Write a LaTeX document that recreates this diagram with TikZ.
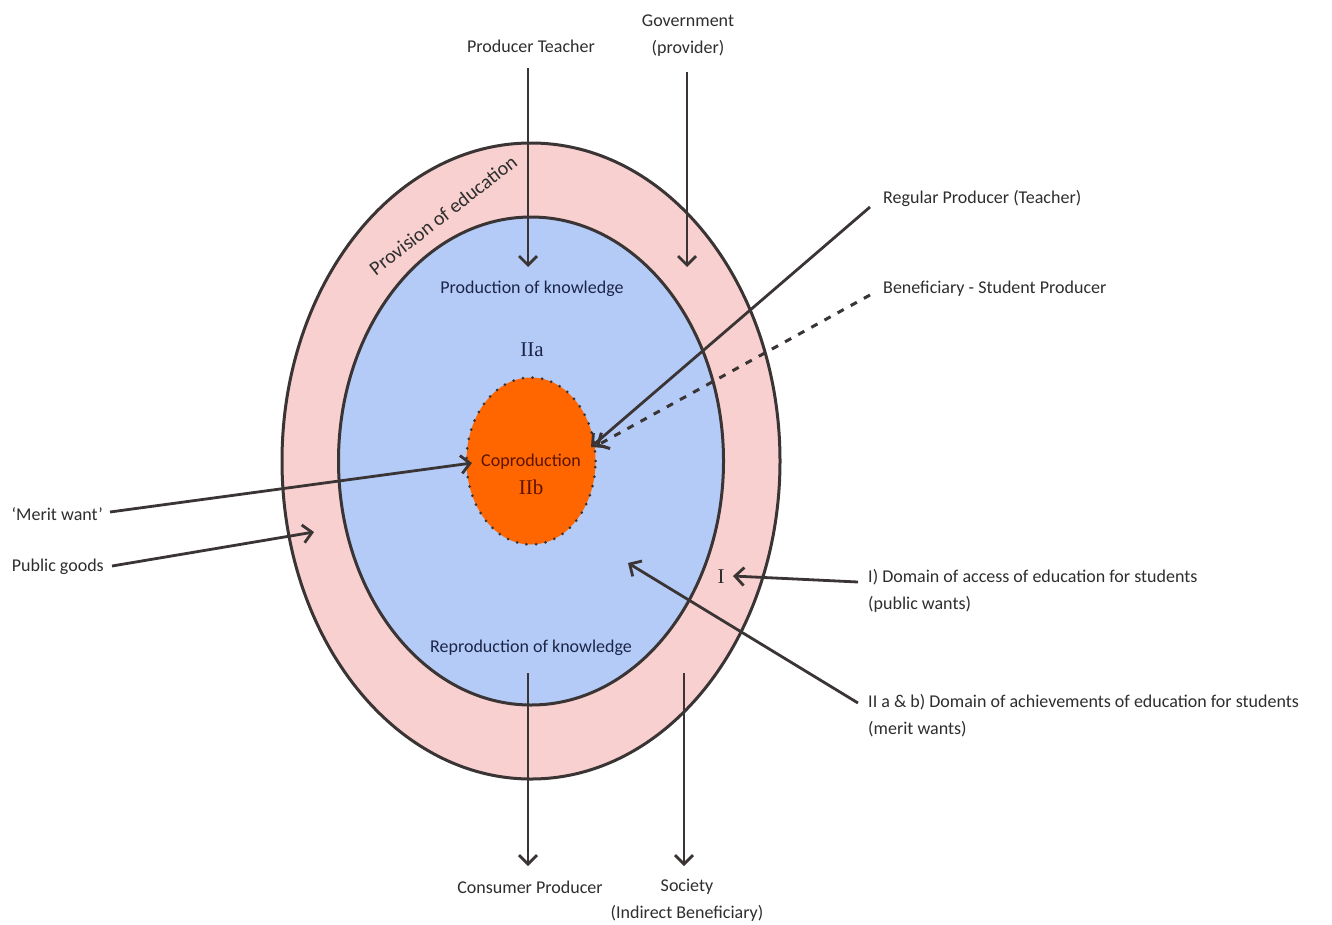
\documentclass[tikz,border=0pt]{standalone}
\usepackage{fontspec}
\setmainfont{Carlito}
\newfontfamily\romanfont{Liberation Serif}
\usetikzlibrary{arrows.meta,shapes.geometric}

\definecolor{bandpink}{HTML}{F9D0D0}
\definecolor{innerblue}{HTML}{B4CBF8}
\definecolor{coreorange}{HTML}{FF6600}
\definecolor{edgegray}{HTML}{3A3434}
\definecolor{inktext}{HTML}{2E2E2E}
\definecolor{navytext}{HTML}{1C2547}
\definecolor{coretext}{HTML}{5A1400}

\begin{document}
\begin{tikzpicture}[x=1pt,y=-1pt,
  lbl/.style={font=\fontsize{18}{21}\selectfont, text=inktext, inner sep=0pt},
  inlbl/.style={font=\fontsize{18}{21}\selectfont, text=navytext, inner sep=0pt},
  numlbl/.style={font=\romanfont\fontsize{21}{24}\selectfont, inner sep=0pt},
  conn/.style={draw=edgegray, line width=2.8pt, -{Straight Barb[length=9pt,width=18pt]}},
  dashconn/.style={draw=edgegray, line width=3pt, dash pattern=on 7pt off 8pt, -{Straight Barb[length=9pt,width=18pt]}},
  ringline/.style={draw=edgegray, line width=3pt, ellipse, inner sep=0pt}]
\useasboundingbox (0,0) rectangle (1332,924);
\fill[white] (0,0) rectangle (1332,924);

% rings
\node[ringline, fill=bandpink, minimum width=498pt, minimum height=636pt] (outer) at (531,461) {};
\node[ringline, fill=innerblue, minimum width=385pt, minimum height=488pt] (inner) at (531,461) {};
\node[ellipse, inner sep=0pt, fill=coreorange, draw=edgegray, line width=3pt,
      dash pattern=on 0pt off 9.6pt, line cap=round,
      minimum width=129pt, minimum height=167pt] (core) at (531,461) {};

% ring label
\node[lbl, font=\fontsize{20}{23}\selectfont, rotate=38] (provision) at (443,215) {Provision of education};

% inner labels
\node[inlbl] (prod) at (532,289) {Production of knowledge};
\node[numlbl, text=navytext] (iia) at (532,350) {IIa};
\node[inlbl] (reprod) at (531,648) {Reproduction of knowledge};
\node[inlbl, text=coretext] (coprod) at (531,462) {Coproduction};
\node[numlbl, text=coretext] (iib) at (531,487) {IIb};
\node[numlbl, text=inktext] (ione) at (721,577) {I};

% outside labels
\node[lbl] (pteacher) at (531,46) {Producer Teacher};
\node[lbl] (gov1) at (688,21) {Government};
\node[lbl] (gov2) at (688,48) {(provider)};
\node[lbl, anchor=west] (regular) at (883,198) {Regular Producer (Teacher)};
\node[lbl, anchor=west] (benef) at (883,289) {Beneficiary - Student Producer};
\node[lbl, anchor=east] (merit) at (103,514) {‘Merit want’};
\node[lbl, anchor=east] (public) at (104,567) {Public goods};
\node[lbl, anchor=west] (dom1a) at (868,577) {I) Domain of access of education for students};
\node[lbl, anchor=west] (dom1b) at (868,604) {(public wants)};
\node[lbl, anchor=west] (dom2a) at (868,702) {II a \& b) Domain of achievements of education for students};
\node[lbl, anchor=west] (dom2b) at (868,729) {(merit wants)};
\node[lbl] (consumer) at (530,887) {Consumer Producer};
\node[lbl] (society1) at (687,887) {Society};
\node[lbl] (society2) at (687,913) {(Indirect Beneficiary)};

% connector end points
\coordinate (ptStart) at (528,68);
\coordinate (ptTip) at (528,267);
\coordinate (govStart) at (687,72);
\coordinate (govTip) at (687,267);
\coordinate (regStart) at (870,207);
\coordinate (coreTip) at (591,447);
\coordinate (benStart) at (870,295);
\coordinate (benTip) at (596,446);
\coordinate (meritStart) at (110,512);
\coordinate (meritTip) at (472,463);
\coordinate (pubStart) at (112,566);
\coordinate (pubTip) at (314,532);
\coordinate (dom1Start) at (858,582);
\coordinate (dom1Tip) at (733,576);
\coordinate (dom2Start) at (858,703);
\coordinate (dom2Tip) at (628,563);
\coordinate (consStart) at (528,673);
\coordinate (consTip) at (528,866);
\coordinate (socStart) at (684,673);
\coordinate (socTip) at (684,866);

% connectors
\draw[conn] (ptStart) -- (ptTip);
\draw[conn] (govStart) -- (govTip);
\draw[dashconn] (benStart) -- (benTip);
\draw[conn] (regStart) -- (coreTip);
\draw[conn] (meritStart) -- (meritTip);
\draw[conn] (pubStart) -- (pubTip);
\draw[conn] (dom1Start) -- (dom1Tip);
\draw[conn] (dom2Start) -- (dom2Tip);
\draw[conn] (consStart) -- (consTip);
\draw[conn] (socStart) -- (socTip);
\end{tikzpicture}
\end{document}
